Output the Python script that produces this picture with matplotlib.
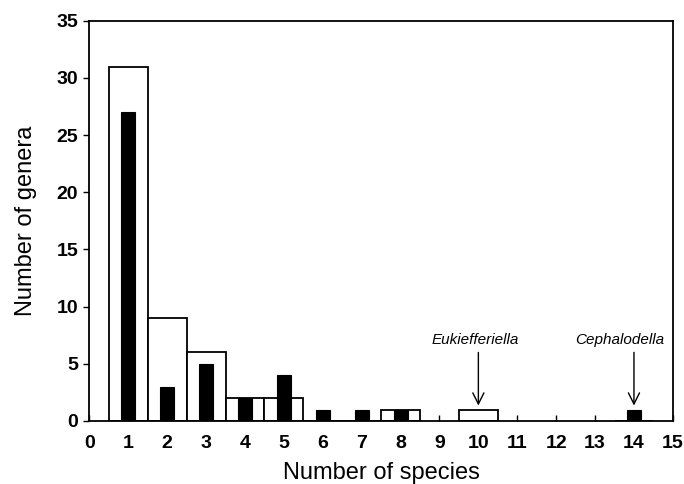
import numpy as np
import matplotlib
matplotlib.use('Agg')
from matplotlib import pyplot as plt

plt.rcParams['font.family'] = ['Liberation Sans', 'DejaVu Sans']

# number of species per genus
species = [1, 2, 3, 4, 5, 6, 7, 8, 10, 14]
white_genera = [31, 9, 6, 2, 2, 0, 0, 1, 1, 0]
black_genera = [27, 3, 5, 2, 4, 1, 1, 1, 0, 1]

notes = ['Eukiefferiella', 'Cephalodella']
note_x = [10, 14]
note_text_x = [9.91, 13.64]

fig = plt.figure(figsize=(6.84, 4.84), dpi=100)
ax = fig.add_axes([0.1307, 0.1302, 0.853, 0.8268])

ax.bar(species, white_genera, width=1.0, color='white', edgecolor='black', linewidth=1.3, zorder=2)
ax.bar(species, black_genera, width=0.36, color='black', edgecolor='black', linewidth=0.8, zorder=3)

for name, x, tx in zip(notes, note_x, note_text_x):
    ax.text(tx, 6.7, name, ha='center', va='baseline', fontsize=11, style='italic')
    ax.annotate('', xy=(x, 1.35), xytext=(x, 6.0),
                arrowprops=dict(arrowstyle='->', color='black', lw=1.0, mutation_scale=20,
                                shrinkA=0, shrinkB=0))

ax.set_xlim(0, 15)
ax.set_ylim(0, 35)
ax.set_xticks(np.arange(0, 16, 1))
ax.set_yticks(np.arange(0, 36, 5))
ax.tick_params(axis='x', direction='in', length=4, width=1.0, pad=10, labelsize=14)
ax.tick_params(axis='y', direction='out', length=4, width=1.0, pad=4, labelsize=14)
for lab in ax.get_xticklabels() + ax.get_yticklabels():
    lab.set_fontweight('bold')
for s in ax.spines.values():
    s.set_linewidth(1.3)

ax.set_xlabel('Number of species', fontsize=17, labelpad=7.5)
ax.set_ylabel('Number of genera', fontsize=17, labelpad=14)

fig.savefig('out.png', dpi=100)
